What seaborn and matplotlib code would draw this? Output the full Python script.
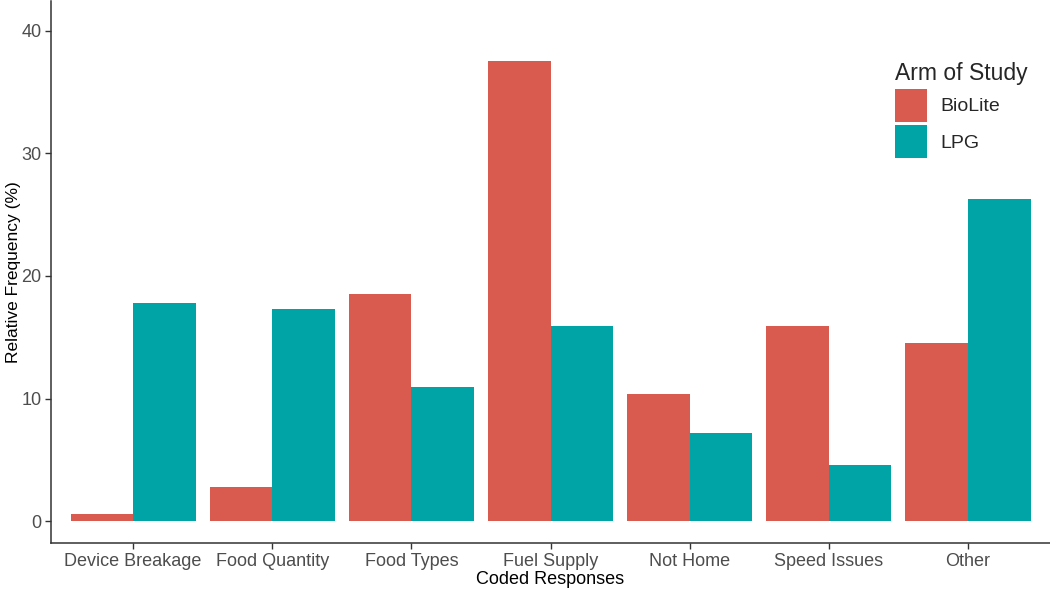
import numpy as np
import pandas as pd
import seaborn as sns
from matplotlib import pyplot as plt
from matplotlib.patches import Patch

# values (percent)
categories = ["Device Breakage", "Food Quantity", "Food Types", "Fuel Supply",
              "Not Home", "Speed Issues", "Other"]
biolite = [0.6, 2.8, 18.5, 37.5, 10.4, 15.9, 14.5]
lpg = [17.8, 17.3, 10.9, 15.9, 7.2, 4.6, 26.3]
arms = ["BioLite", "LPG"]
colors = ["#D95B50", "#00A4A6"]

df = pd.DataFrame({
    "Coded Responses": categories * 2,
    "Arm of Study": [arms[0]] * len(categories) + [arms[1]] * len(categories),
    "Relative Frequency (%)": biolite + lpg,
})

sns.set_style("white")
plt.rcParams["font.family"] = ["Liberation Sans", "DejaVu Sans"]

fig = plt.figure(figsize=(10.5, 5.95), dpi=100)
ax = fig.add_axes([0.0486, 0.087, 0.9514, 0.911])

sns.barplot(data=df, x="Coded Responses", y="Relative Frequency (%)",
            hue="Arm of Study", order=categories, hue_order=arms,
            palette=colors, width=0.9, gap=0, saturation=1,
            linewidth=0, ax=ax, legend=False)

ax.set_xlim(-0.59, 6.59)
ax.set_ylim(-1.8, 42.4)
ax.set_yticks([0, 10, 20, 30, 40])
sns.despine(ax=ax)
for s in ["left", "bottom"]:
    ax.spines[s].set_color("#333333")
    ax.spines[s].set_linewidth(1.1)
ax.tick_params(axis="both", which="both", length=4, width=1, color="#333333",
               labelsize=13, labelcolor="#4D4D4D", pad=3, bottom=True, left=True)
ax.set_xlabel("Coded Responses", fontsize=13, color="black", labelpad=1)
ax.set_ylabel("Relative Frequency (%)", fontsize=12.5, color="black")
ax.yaxis.set_label_coords(-0.03, 0.5)

handles = [Patch(facecolor=c, edgecolor="none") for c in colors]
leg = fig.legend(handles, arms, title="Arm of Study", loc="upper left",
                 bbox_to_anchor=(0.836, 0.925), frameon=False, fontsize=14,
                 title_fontsize=16.5, handlelength=1.65, handleheight=2.2,
                 handletextpad=0.65, labelspacing=0.2, alignment="left")

fig.savefig("out.png", dpi=100)
